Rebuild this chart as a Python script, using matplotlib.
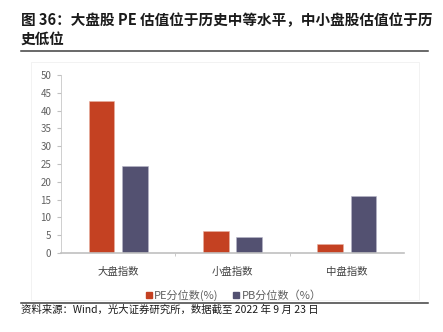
import matplotlib.pyplot as plt
import matplotlib as mpl
from matplotlib.lines import Line2D
from matplotlib.patches import Rectangle
import numpy as np

plt.rcParams['font.family'] = ['Noto Sans CJK SC', 'DejaVu Sans']

# 估值分位数数据
categories = ['大盘指数', '小盘指数', '中盘指数']
pe_pct = [42.8, 6.2, 2.6]
pb_pct = [24.5, 4.4, 16.1]
series_names = ['PE分位数(%)', 'PB分位数（%）']
yticks = [0, 5, 10, 15, 20, 25, 30, 35, 40, 45, 50]

c_pe = '#C44122'
c_pb = '#535171'
W, H = 443, 332

fig = plt.figure(figsize=(W / 100, H / 100), dpi=100)

# 外框（很淡）
fig.patches.append(Rectangle((31 / W, 1 - 300 / H), (419 - 31) / W, (300 - 62) / H,
                             transform=fig.transFigure, fill=False,
                             ec='#f0f0f0', lw=0.6))

ax = fig.add_axes([61 / W, 1 - 253 / H, (404 - 61) / W, (253 - 75) / H])
x = np.arange(len(categories))
bw = 0.225
off = 0.145
ax.bar(x - off, pe_pct, bw, color=c_pe, ec='#e8b0a0', lw=0.4)
ax.bar(x + off, pb_pct, bw, color=c_pb, ec='#b8b6c8', lw=0.4)

ax.set_xlim(-0.5, 2.5)
ax.set_ylim(0, 50)
ax.set_yticks(yticks)
ax.set_xticks(x)
ax.set_xticklabels(categories, fontsize=7.5, color='#404040')
ax.set_xticks([0.5, 1.5], minor=True)
ax.tick_params(axis='x', which='major', length=0, pad=10)
ax.tick_params(axis='x', which='minor', length=2.5, color='#c0c0c0', direction='out')
ax.tick_params(axis='y', labelsize=7, labelcolor='#606060', length=3, color='#c0c0c0', pad=4)
for s in ['top', 'right']:
    ax.spines[s].set_visible(False)
ax.spines['left'].set_color('#c8c8c8')
ax.spines['left'].set_linewidth(0.6)
ax.spines['bottom'].set_color('#c0c0c0')
ax.spines['bottom'].set_linewidth(1.2)

# 图例
handles = [Line2D([], [], marker='s', ls='none', color=c, markersize=4.5) for c in (c_pe, c_pb)]
fig.legend(handles, series_names, loc='center', bbox_to_anchor=(233 / W, 1 - 295 / H),
           ncol=2, frameon=False, fontsize=8, labelcolor='#606060',
           handletextpad=0.1, columnspacing=1.2, handlelength=0.8)

# 标题与出处
fig.text(21 / W, 1 - 20 / H, '图 36：大盘股 PE 估值位于历史中等水平，中小盘股估值位于历',
         fontsize=10.5, fontweight='bold', va='center', ha='left', color='#1a1a1a')
fig.text(21 / W, 1 - 38.5 / H, '史低位',
         fontsize=10.5, fontweight='bold', va='center', ha='left', color='#1a1a1a')
fig.add_artist(Line2D([21 / W, 428 / W], [1 - 50.5 / H] * 2, color='#404040', lw=1.1))
fig.add_artist(Line2D([21 / W, 428 / W], [1 - 302.5 / H] * 2, color='#404040', lw=1.1))
fig.text(21 / W, 1 - 310 / H, '资料来源：Wind，光大证券研究所，数据截至 2022 年 9 月 23 日',
         fontsize=7.5, va='center', ha='left', color='#1a1a1a')

fig.savefig('out.png', dpi=100)
